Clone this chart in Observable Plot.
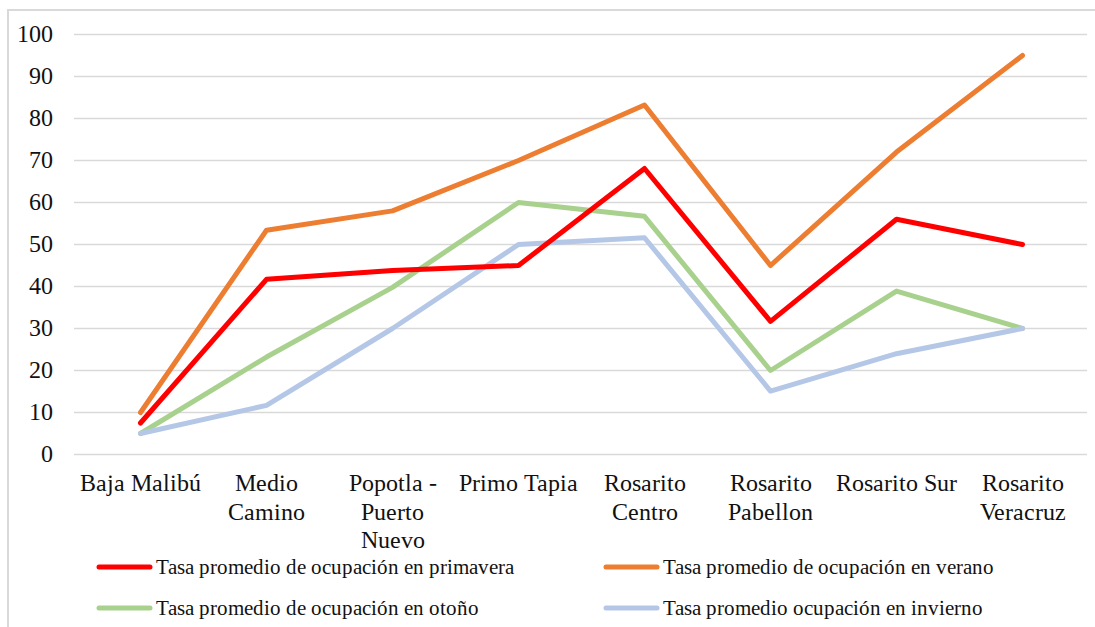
<!DOCTYPE html>
<html>
<head>
<meta charset="utf-8">
<script src="https://cdn.jsdelivr.net/npm/d3@7"></script>
<script src="https://cdn.jsdelivr.net/npm/@observablehq/plot@0.6"></script>
<style>
  @font-face { font-family: "ChartSerif"; src: local("Liberation Serif"), local("LiberationSerif"), local("LiberationSerif-Regular"), local("Tinos"), local("DejaVu Serif"), local("DejaVuSerif"), local("Noto Serif"), local("NotoSerif-Regular"); }
  html, body { margin: 0; padding: 0; background: #fff; }
  #wrap { position: relative; width: 1095px; height: 627px; overflow: hidden; font-family: ChartSerif, 'Liberation Serif', 'Times New Roman', serif; }
  #frame { position: absolute; left: 7px; top: 9px; width: 1200px; height: 700px; border-left: 2px solid #d9d9d9; border-top: 2px solid #d9d9d9; }
  #chart { position: absolute; left: 0; top: 0; }
  #chart svg { font-family: ChartSerif, 'Liberation Serif', 'Times New Roman', serif !important; }
  .leg { position: absolute; display: flex; align-items: center; font-size: 21px; color: #111; white-space: nowrap; }
  .leg svg { margin-right: 3px; }
</style>
</head>
<body>
<div id="wrap">
  <div id="frame"></div>
  <div id="chart"></div>
  <div id="legend"></div>
</div>
<script>
const categories = ["Baja Malibú", "Medio Camino", "Popotla - Puerto Nuevo", "Primo Tapia", "Rosarito Centro", "Rosarito Pabellon", "Rosarito Sur", "Rosarito Veracruz"];
const tickLabels = ["Baja Malibú", "Medio\nCamino", "Popotla -\nPuerto\nNuevo", "Primo Tapia", "Rosarito\nCentro", "Rosarito\nPabellon", "Rosarito Sur", "Rosarito\nVeracruz"];
const yTicks = [0, 10, 20, 30, 40, 50, 60, 70, 80, 90, 100];

const primavera = [7.5, 41.7, 43.8, 45, 68.1, 31.7, 56, 50];
const verano    = [10, 53.4, 58, 70, 83.2, 45, 72, 95];
const otono     = [5, 23.2, 39.8, 60, 56.7, 20, 38.9, 30];
const invierno  = [5, 11.7, 30, 50, 51.6, 15.1, 24, 30];

const seriesNames = [
  "Tasa promedio de ocupación en primavera",
  "Tasa promedio de ocupación en verano",
  "Tasa promedio de ocupación en otoño",
  "Tasa promedio ocupación en invierno"
];
const seriesColors = ["#ff0000", "#ed7d31", "#a9d18e", "#b4c7e7"];
const seriesValues = [primavera, verano, otono, invierno];

const labelOf = new Map(categories.map((c, i) => [c, tickLabels[i]]));
const rows = (vals) => categories.map((c, i) => ({cat: c, v: vals[i]}));
const drawOrder = [2, 3, 1, 0];

const chart = Plot.plot({
  width: 1095,
  height: 560,
  marginLeft: 74,
  marginRight: 8,
  marginTop: 34,
  marginBottom: 106,
  style: {color: "#111", background: "transparent", overflow: "visible"},
  x: {type: "point", domain: categories, padding: 0.5},
  y: {domain: [0, 100]},
  marks: [
    Plot.gridY(yTicks, {stroke: "#d9d9d9", strokeOpacity: 1, strokeWidth: 1.5}),
    Plot.axisY(yTicks, {tickSize: 0, tickPadding: 22, fontSize: 24, label: null}),
    Plot.axisX({tickSize: 0, tickPadding: 17, fontSize: 24, lineHeight: 1.17, label: null, tickFormat: d => labelOf.get(d)}),
    ...drawOrder.map(i => Plot.line(rows(seriesValues[i]), {
      x: "cat", y: "v", stroke: seriesColors[i], strokeWidth: 5,
      strokeLinecap: "round", strokeLinejoin: "round"
    }))
  ]
});
document.getElementById("chart").appendChild(chart);

const legendPos = [[96, 567], [603, 567], [96, 608], [603, 608]];
const legend = document.getElementById("legend");
seriesNames.forEach((name, i) => {
  const d = document.createElement("div");
  d.className = "leg";
  d.style.left = legendPos[i][0] + "px";
  d.style.top = (legendPos[i][1] - 14) + "px";
  d.style.height = "28px";
  d.innerHTML = `<svg width="57" height="10"><line x1="3" y1="5" x2="54" y2="5" stroke="${seriesColors[i]}" stroke-width="5" stroke-linecap="round"/></svg><span>${name}</span>`;
  legend.appendChild(d);
});
</script>
</body>
</html>
